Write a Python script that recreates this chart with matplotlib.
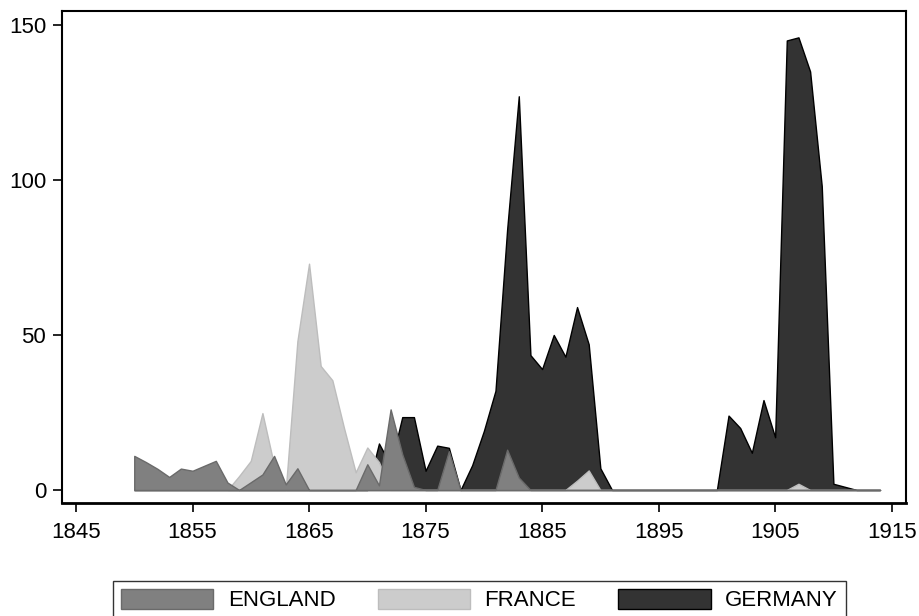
import numpy as np
import matplotlib
matplotlib.use("Agg")
import matplotlib.pyplot as plt

plt.rcParams['font.family'] = ['Liberation Sans', 'DejaVu Sans']

years = np.arange(1850, 1915)

# values, one per year 1850-1914
england = [11, 9, 6.8, 4.2, 6.9, 6.2, 7.8, 9.4, 2.4, 0,
           2.5, 5, 11, 1.8, 7, 0, 0, 0, 0, 0,
           8.3, 1.5, 26, 11.5, 1, 0, 0, 12.5, 0, 0,
           0, 0, 13, 4, 0, 0, 0, 0, 0, 0,
           0, 0, 0, 0, 0, 0, 0, 0, 0, 0,
           0, 0, 0, 0, 0, 0, 0, 0, 0, 0,
           0, 0, 0, 0, 0]
france = [0, 0, 0, 0, 0, 0, 0, 0, 0, 4.5,
          9.4, 24.8, 8, 0, 48, 73, 40, 35.4, 20, 5.7,
          13.7, 9, 0, 0, 0, 0, 0, 0, 0, 0,
          0, 0, 0, 0, 0, 0, 0, 0, 3, 6.3,
          0, 0, 0, 0, 0, 0, 0, 0, 0, 0,
          0, 0, 0, 0, 0, 0, 0, 2, 0, 0,
          0, 0, 0, 0, 0]
germany = [0, 0, 0, 0, 0, 0, 0, 0, 0, 0,
           0, 0, 0, 0, 0, 0, 0, 0, 0, 0,
           0, 15, 8, 23.5, 23.5, 6.2, 14.3, 13.6, 0, 8,
           19, 32, 84, 127, 43.5, 39, 50, 43, 59, 47,
           7, 0, 0, 0, 0, 0, 0, 0, 0, 0,
           0, 24, 20, 12, 29, 17, 145, 146, 135, 98,
           2, 1, 0, 0, 0]

labels = ["ENGLAND", "FRANCE", "GERMANY"]
xticks = [1845, 1855, 1865, 1875, 1885, 1895, 1905, 1915]
yticks = [0, 50, 100, 150]

fig = plt.figure(figsize=(9.2, 6.16), dpi=100)
ax = fig.add_axes([62/920, 1-503/616, (906-62)/920, (503-11)/616])

# germany at the back, england on top
ax.fill_between(years, 0, germany, facecolor="#333333", edgecolor="#000000",
                linewidth=1.0, zorder=1, label=labels[2])
ax.fill_between(years, 0, france, facecolor="#cccccc", edgecolor="#bdbdbd",
                linewidth=1.0, zorder=2, label=labels[1])
ax.fill_between(years, 0, england, facecolor="#808080", edgecolor="#6a6a6a",
                linewidth=1.0, zorder=3, label=labels[0])

ax.set_xlim(1843.8, 1916.23)
ax.set_ylim(-4.2, 154.5)
ax.set_xticks(xticks)
ax.set_yticks(yticks)
ax.tick_params(labelsize=16, length=6.5, width=1.2, direction="out")
ax.tick_params(axis="x", pad=7)
ax.tick_params(axis="y", pad=5)
for s in ax.spines.values():
    s.set_linewidth(1.5)
ax.spines["bottom"].set_linewidth(2)

h, l = ax.get_legend_handles_labels()
order = [2, 1, 0]
leg = fig.legend([h[i] for i in order], [l[i] for i in order], ncol=3,
                 loc="upper center", bbox_to_anchor=(479.5/920, 1-581/616),
                 borderaxespad=0, fontsize=16, fancybox=False,
                 edgecolor="black", handlelength=4.15, handleheight=1.0,
                 handletextpad=0.65, columnspacing=1.9, borderpad=0.35)
leg.get_frame().set_linewidth(1.0)

fig.savefig("out.png", dpi=100)
